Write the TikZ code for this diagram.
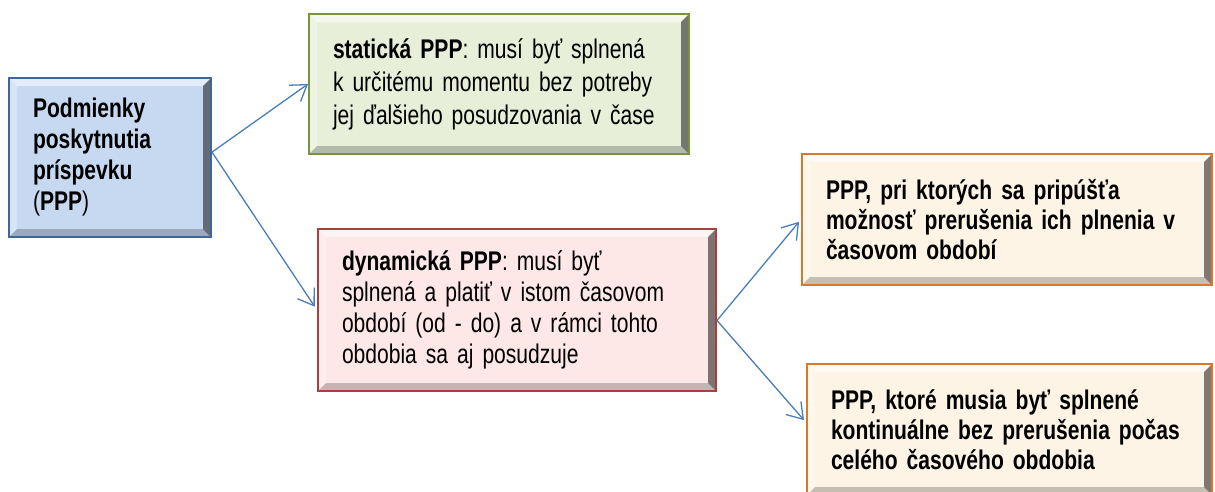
\documentclass[tikz,border=0pt]{standalone}
\usepackage{fontspec}
\setmainfont{Liberation Sans}[FakeStretch=0.78]
\usetikzlibrary{arrows.meta,calc}
\definecolor{rootfill}{HTML}{C6D9F1}
\definecolor{rootline}{HTML}{3C679E}
\definecolor{staticfill}{HTML}{E7EFD9}
\definecolor{staticline}{HTML}{77933C}
\definecolor{dynfill}{HTML}{FDE7E7}
\definecolor{dynline}{HTML}{A8403D}
\definecolor{varfill}{HTML}{FEF4E5}
\definecolor{varline}{HTML}{D9772B}
\definecolor{arrowblue}{HTML}{4A7EBB}
\tikzset{
  bevel/.style={
    path picture={
      \coordinate (bnw) at (path picture bounding box.north west);
      \coordinate (bne) at (path picture bounding box.north east);
      \coordinate (bsw) at (path picture bounding box.south west);
      \coordinate (bse) at (path picture bounding box.south east);
      \fill[white,opacity=.55] (bnw) -- (bne) -- ($(bne)+(-#1,-#1)$) -- ($(bnw)+(#1,-#1)$) -- cycle;
      \fill[white,opacity=.3] (bnw) -- (bsw) -- ($(bsw)+(#1,#1)$) -- ($(bnw)+(#1,-#1)$) -- cycle;
      \fill[black,opacity=.5] (bne) -- (bse) -- ($(bse)+(-#1,#1)$) -- ($(bne)+(-#1,-#1)$) -- cycle;
      \fill[black,opacity=.22] (bsw) -- (bse) -- ($(bse)+(-#1,#1)$) -- ($(bsw)+(#1,#1)$) -- cycle;
    }}
  }

\begin{document}
\begin{tikzpicture}[x=1pt,y=-1pt,
    nodes={rectangle, line width=2pt, bevel=8pt, align=left, inner xsep=24pt, inner ysep=0pt,
        font=\fontsize{27}{31}\selectfont},
    root/.style={%
        fill=rootfill, draw=rootline,
        minimum width=202pt, minimum height=159pt, text width=154pt},
    static/.style={%
        fill=staticfill, draw=staticline,
        minimum width=380pt, minimum height=140pt, text width=332pt,
        font=\fontsize{27}{33}\selectfont},
    dynamic/.style={%
        fill=dynfill, draw=dynline,
        minimum width=398pt, minimum height=162pt, text width=350pt},
    variant/.style={%
        fill=varfill, draw=varline,
        minimum width=405pt, minimum height=131pt, text width=357pt,
        font=\fontsize{27}{30}\selectfont\bfseries},
    conn/.style={draw=arrowblue, line width=1.3pt,
        -{Straight Barb[length=15pt,width=20pt]}},
]
    \path[use as bounding box, clip] (0,0) rectangle (1215,491);
     %Conditions
    \node[root] (cond) at (110,157.5) {\textbf{Podmienky}\\\textbf{poskytnutia}\\\textbf{príspevku}\\(\textbf{PPP})};
     %Kinds
    \node[static] (static) at (499,84) {\textbf{statická PPP}: musí byť splnená\\k určitému momentu bez potreby\\jej ďalšieho posudzovania v čase};
    \node[dynamic] (dynamic) at (517,310) {\textbf{dynamická PPP}: musí byť\\splnená a platiť v istom časovom\\období (od - do) a v rámci tohto\\obdobia sa aj posudzuje};
     %Dynamic variants
    \node[variant, minimum width=410pt, text width=362pt] (pause) at (1007,219.5) {PPP, pri ktorých sa pripúšťa\\možnosť prerušenia ich plnenia v\\časovom období};
    \node[variant] (nonstop) at (1009.5,429.5) {PPP, ktoré musia byť splnené\\kontinuálne bez prerušenia počas\\celého časového obdobia};

    \draw[conn] (cond.3) -- (static.west);
    \draw[conn, shorten >=4pt] (cond.3) -- (dynamic.west);
    \draw[conn, shorten >=3pt] (dynamic.-3.4) -- (pause.west);
    \draw[conn, shorten >=3pt] (dynamic.-3.4) -- (nonstop.178);
\end{tikzpicture}
\end{document}
